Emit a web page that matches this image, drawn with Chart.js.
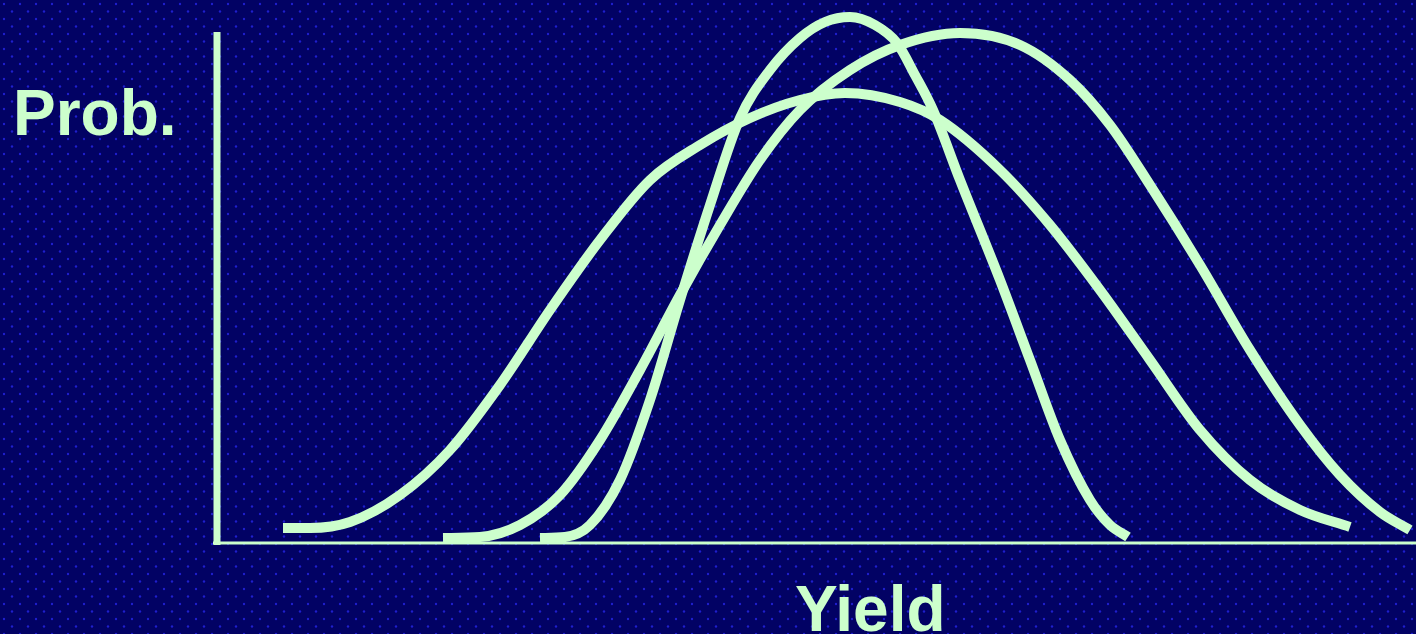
<!DOCTYPE html>
<html>
<head>
<meta charset="utf-8">
<script src="https://cdn.jsdelivr.net/npm/chart.js@4"></script>
<style>
  html, body { margin: 0; padding: 0; background: #020264; }
  canvas { display: block; }
</style>
</head>
<body>
<canvas id="yieldChart" width="1416" height="634"></canvas>
<script>
// ── Yield probability curves ──

// yield axis units, probability density units (arbitrary)
const wideYield   = [68, 95, 135, 185, 235, 285, 335, 385, 435, 485, 535, 585, 630, 685, 725, 785, 835, 885, 935, 985, 1035, 1085, 1135];
const wideProb    = [15, 15, 21, 48, 93, 158, 233, 303, 363, 398, 425, 443, 450, 441, 423, 373, 318, 253, 183, 113, 63, 33, 16];

const narrowYield = [325, 350, 375, 405, 435, 465, 495, 525, 555, 585, 610, 635, 660, 682, 700, 718, 745, 785, 815, 845, 875, 895, 913];
const narrowProb  = [5, 6, 18, 63, 143, 243, 338, 425, 473, 505, 521, 526, 518, 500, 468, 433, 363, 263, 183, 103, 43, 18, 6];

const midYield    = [228, 265, 305, 345, 385, 425, 465, 505, 545, 585, 635, 685, 745, 805, 855, 895, 935, 985, 1035, 1085, 1125, 1165, 1195];
const midProb     = [5, 6, 18, 48, 103, 173, 248, 318, 383, 433, 473, 498, 510, 498, 463, 418, 358, 278, 193, 118, 68, 31, 13];

const xLabel = 'Yield';
const yLabel = 'Prob.';
const axisTop = 511;

const lineColor = '#ccffcc';
const toPoints = (xs, ys) => xs.map((x, i) => ({ x: x, y: ys[i] }));

// dotted navy backdrop
const bgPlugin = {
  id: 'bg',
  beforeDraw(chart) {
    const ctx = chart.ctx;
    const tile = document.createElement('canvas');
    tile.width = 16; tile.height = 15;
    const t = tile.getContext('2d');
    t.fillStyle = '#020264';
    t.fillRect(0, 0, 16, 15);
    t.fillStyle = 'rgba(34,34,215,0.9)';
    t.beginPath(); t.arc(4, 4, 1.2, 0, Math.PI * 2); t.fill();
    t.beginPath(); t.arc(12, 11.5, 1.2, 0, Math.PI * 2); t.fill();
    ctx.save();
    ctx.fillStyle = ctx.createPattern(tile, 'repeat');
    ctx.fillRect(0, 0, chart.width, chart.height);
    ctx.restore();
  }
};

// axis lines
const axesPlugin = {
  id: 'axes',
  beforeDatasetsDraw(chart) {
    const { ctx, scales: { x, y } } = chart;
    const x0 = x.getPixelForValue(0), y0 = y.getPixelForValue(0);
    ctx.save();
    ctx.strokeStyle = lineColor;
    ctx.lineWidth = 7;
    ctx.beginPath();
    ctx.moveTo(x0 + 2, y.getPixelForValue(axisTop));
    ctx.lineTo(x0 + 2, y0 + 2);
    ctx.stroke();
    ctx.lineWidth = 3;
    ctx.beginPath();
    ctx.moveTo(x0 - 2, y0);
    ctx.lineTo(chart.width, y0);
    ctx.stroke();
    ctx.restore();
  }
};

// axis titles
const titlePlugin = {
  id: 'titles',
  afterDraw(chart) {
    const ctx = chart.ctx;
    ctx.save();
    ctx.fillStyle = lineColor;
    ctx.font = 'bold 64px "Liberation Sans", Arial, sans-serif';
    ctx.textBaseline = 'alphabetic';
    ctx.fillText(yLabel, 13, 135);
    ctx.fillText(xLabel, 795, 631);
    ctx.restore();
  }
};

const curveStyle = { borderColor: lineColor, borderWidth: 10, borderCapStyle: 'butt', pointRadius: 0, cubicInterpolationMode: 'monotone', fill: false, clip: false };

new Chart(document.getElementById('yieldChart').getContext('2d'), {
  type: 'line',
  data: {
    datasets: [
      Object.assign({ label: 'wide', data: toPoints(wideYield, wideProb) }, curveStyle),
      Object.assign({ label: 'medium', data: toPoints(midYield, midProb) }, curveStyle),
      Object.assign({ label: 'narrow', data: toPoints(narrowYield, narrowProb) }, curveStyle)
    ]
  },
  options: {
    responsive: false,
    animation: false,
    layout: { padding: { left: 215, top: 23, right: 0, bottom: 91 } },
    plugins: { legend: { display: false }, tooltip: { enabled: false } },
    scales: {
      x: { type: 'linear', min: 0, max: 1201, display: false },
      y: { type: 'linear', min: 0, max: 520, display: false }
    }
  },
  plugins: [bgPlugin, axesPlugin, titlePlugin]
});
</script>
</body>
</html>
